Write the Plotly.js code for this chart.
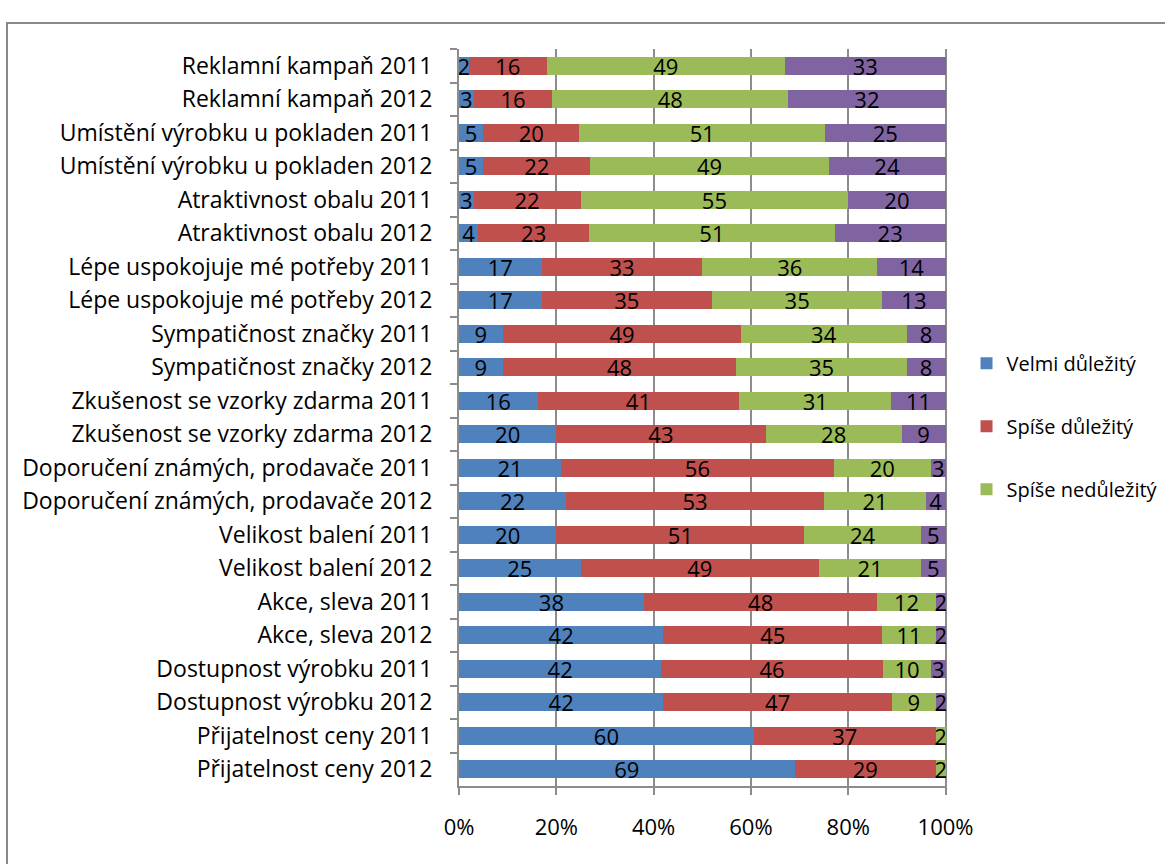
<!DOCTYPE html>
<html>
<head>
<meta charset="utf-8">
<script src="https://cdn.plot.ly/plotly-3.0.1.min.js"></script>
<style>
html,body{margin:0;padding:0;background:#fff;overflow:hidden;}
#frame{position:absolute;left:6px;top:22px;width:1200px;height:900px;border-left:2px solid #8a8a8a;border-top:2px solid #8a8a8a;box-sizing:border-box;}
#chart{position:absolute;left:0;top:0;width:1165px;height:864px;}
</style>
</head>
<body>
<div id="frame"></div>
<div id="chart"></div>
<script>
const categories = [
  "Reklamní kampaň 2011",
  "Reklamní kampaň 2012",
  "Umístění výrobku u pokladen 2011",
  "Umístění výrobku u pokladen 2012",
  "Atraktivnost obalu 2011",
  "Atraktivnost obalu 2012",
  "Lépe uspokojuje mé potřeby 2011",
  "Lépe uspokojuje mé potřeby 2012",
  "Sympatičnost značky 2011",
  "Sympatičnost značky 2012",
  "Zkušenost se vzorky zdarma 2011",
  "Zkušenost se vzorky zdarma 2012",
  "Doporučení známých, prodavače 2011",
  "Doporučení známých, prodavače 2012",
  "Velikost balení 2011",
  "Velikost balení 2012",
  "Akce, sleva 2011",
  "Akce, sleva 2012",
  "Dostupnost výrobku 2011",
  "Dostupnost výrobku 2012",
  "Přijatelnost ceny 2011",
  "Přijatelnost ceny 2012"
];
const velmiDulezity    = [2,3,5,5,3,4,17,17,9,9,16,20,21,22,20,25,38,42,42,42,60,69];
const spiseDulezity    = [16,16,20,22,22,23,33,35,49,48,41,43,56,53,51,49,48,45,46,47,37,29];
const spiseNedulezity  = [49,48,51,49,55,51,36,35,34,35,31,28,20,21,24,21,12,11,10,9,2,2];
const zcelaNedulezity  = [33,32,25,24,20,23,14,13,8,8,11,9,3,4,5,5,2,2,3,2,0,0];
const seriesNames = ["Velmi důležitý","Spíše důležitý","Spíše nedůležitý","Zcela nedůležitý"];
const tickLabels = ["0%","20%","40%","60%","80%","100%"];
const tickVals = [0,20,40,60,80,100];

const colors = ["#4F81BD","#C0504D","#9BBB59","#8064A2"];
const series = [velmiDulezity, spiseDulezity, spiseNedulezity, zcelaNedulezity];
const font = "'Open Sans', Calibri, Carlito, sans-serif";

const traces = series.map((vals, i) => ({
  type: "bar",
  orientation: "h",
  name: seriesNames[i],
  y: categories,
  x: vals,
  text: vals.map(v => v === 0 ? "" : String(v)),
  textposition: "inside",
  textangle: 0,
  insidetextanchor: "middle",
  constraintext: "none",
  textfont: {family: font, size: 22, color: "#000"},
  marker: {color: colors[i], line: {width: 0}},
  hoverinfo: "skip",
  showlegend: i < 3,
  legendgroup: "g" + i,
  cliponaxis: false
}));

const layout = {
  width: 1165, height: 864,
  paper_bgcolor: "rgba(0,0,0,0)",
  plot_bgcolor: "rgba(0,0,0,0)",
  barmode: "stack",
  barnorm: "percent",
  bargap: 0.45,
  margin: {l: 459, r: 218, t: 49, b: 78, autoexpand: false},
  uniformtext: {mode: "show", minsize: 22},
  font: {family: font, size: 18, color: "#000"},
  xaxis: {
    range: [0, 100.3],
    tickvals: tickVals,
    ticktext: tickLabels,
    showgrid: true,
    gridcolor: "#8c8c8c",
    gridwidth: 2,
    zeroline: false,
    showline: true,
    linecolor: "#8c8c8c",
    linewidth: 2,
    ticks: "outside",
    ticklen: 7,
    tickwidth: 2,
    tickcolor: "#8c8c8c",
    ticklabelstandoff: 14,
    tickfont: {family: font, size: 22, color: "#000"},
    fixedrange: true
  },
  yaxis: {
    type: "category",
    autorange: "reversed",
    categoryorder: "array",
    categoryarray: categories,
    tickson: "boundaries",
    ticks: "outside",
    ticklen: 7,
    tickwidth: 2,
    tickcolor: "#8c8c8c",
    showline: true,
    linecolor: "#8c8c8c",
    linewidth: 2,
    showgrid: false,
    ticklabelstandoff: 20,
    tickfont: {family: font, size: 23, color: "#000"},
    fixedrange: true
  },
  legend: {
    x: 1.04, y: 0.6, xanchor: "left", yanchor: "top",
    traceorder: "grouped",
    tracegroupgap: 34,
    font: {family: font, size: 20, color: "#000"},
    bgcolor: "rgba(0,0,0,0)",
    itemwidth: 30
  }
};

Plotly.newPlot("chart", traces, layout, {displayModeBar: false, staticPlot: true});
</script>
</body>
</html>
